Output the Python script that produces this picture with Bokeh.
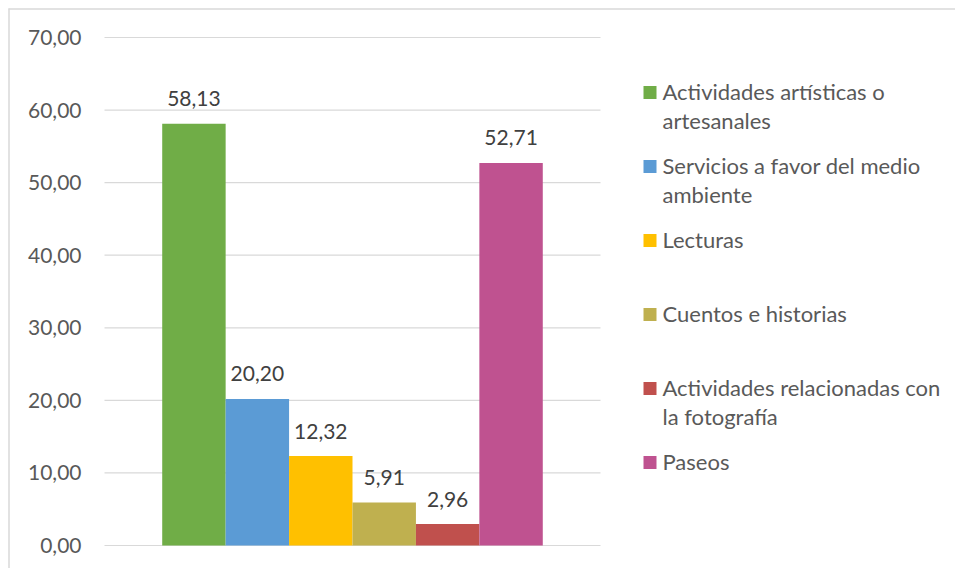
from bokeh.plotting import figure
from bokeh.models import ColumnDataSource, Range1d
from bokeh.core.properties import value
from bokeh.embed import file_html
from bokeh.resources import INLINE

# ---- data ----
series = ["Actividades artísticas o artesanales",
          "Servicios a favor del medio ambiente",
          "Lecturas",
          "Cuentos e historias",
          "Actividades relacionadas con la fotografía",
          "Paseos"]
legend_lines = [["Actividades artísticas o", "artesanales"],
                ["Servicios a favor del medio", "ambiente"],
                ["Lecturas"],
                ["Cuentos e historias"],
                ["Actividades relacionadas con", "la fotografía"],
                ["Paseos"]]
values = [58.13, 20.20, 12.32, 5.91, 2.96, 52.71]
colors = ["#70AD47", "#5B9BD5", "#FFC000", "#BFB04F", "#C0504D", "#BF5290"]
y_ticks = [0, 10, 20, 30, 40, 50, 60, 70]
y_tick_labels = ["0,00", "10,00", "20,00", "30,00", "40,00", "50,00", "60,00", "70,00"]

# ---- layout (pixels) ----
FONT = "Lato"
W, H = 955, 568
PLOT_L, PLOT_R, PLOT_T, PLOT_B = 104, 600, 37, 545
Y_MAX = 70
n = len(values)
pad = 0.91

xl, xr = -0.5 - pad, n - 0.5 + pad
sx = (PLOT_R - PLOT_L) / (xr - xl)
sy = (PLOT_B - PLOT_T) / Y_MAX


def px2x(px):
    return xl + (px - PLOT_L) / sx


def py2y(py):
    return (PLOT_B - py) / sy


p = figure(width=W, height=H, output_backend="svg", toolbar_location=None,
           x_range=Range1d(px2x(0), px2x(W)), y_range=Range1d(py2y(H), py2y(0)),
           min_border=0, x_axis_type=None, y_axis_type=None)
p.outline_line_color = None
p.grid.visible = False

# chart border (top and left)
p.segment(x0=[px2x(8.5), px2x(8)], y0=[py2y(H), py2y(8.5)],
          x1=[px2x(8.5), px2x(W)], y1=[py2y(8), py2y(8.5)],
          line_color="#d9d9d9", line_width=1.5)

# gridlines
p.segment(x0=[xl] * len(y_ticks), x1=[xr] * len(y_ticks), y0=y_ticks, y1=y_ticks,
          line_color="#d9d9d9", line_width=1.2)

# tick labels
p.text(x=[xl] * len(y_ticks), y=y_ticks, text=y_tick_labels, x_offset=-23,
       text_align="right", text_baseline="middle", text_font=value(FONT),
       text_font_size="21px", text_color="#595959")

# bars
src = ColumnDataSource(dict(
    x=list(range(n)),
    top=values,
    color=colors,
    label=[f"{v:.2f}".replace(".", ",") for v in values],
))
p.vbar(x="x", top="top", width=1.0, color="color", source=src, line_color=None)
p.text(x="x", y="top", text="label", source=src, y_offset=-25,
       text_align="center", text_baseline="alphabetic", text_font=value(FONT),
       text_font_size="21px", text_color="#404040")

# legend
MARK_X = 649.5
TEXT_X = 662
for i, (lines, c) in enumerate(zip(legend_lines, colors)):
    yc = 92 + 74 * i
    p.rect(x=[px2x(MARK_X)], y=[py2y(yc)], width=13, height=13,
           width_units="screen", height_units="screen", fill_color=c, line_color=None)
    p.text(x=[px2x(TEXT_X)] * len(lines), y=[py2y(yc - 1 + 29 * j) for j in range(len(lines))],
           text=lines, text_align="left", text_baseline="middle", text_font=value(FONT),
           text_font_size="22px", text_color="#595959")

open("out.html", "w").write(file_html(p, INLINE))
